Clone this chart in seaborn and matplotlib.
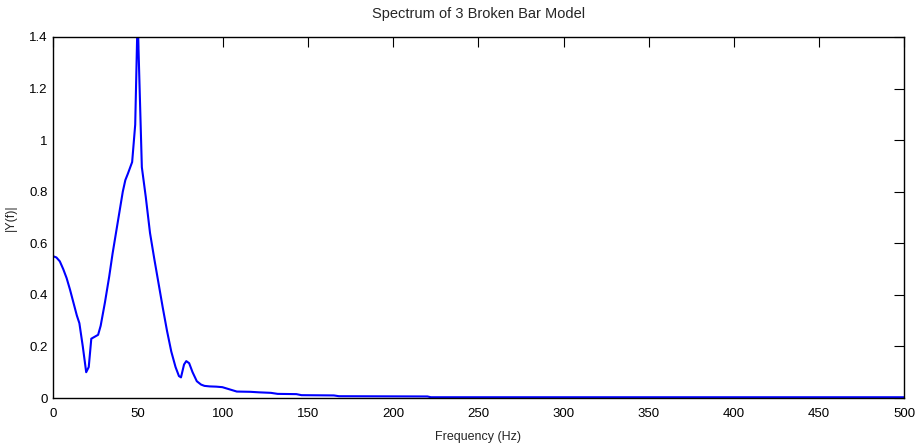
import matplotlib

matplotlib.use("Agg")
import matplotlib.pyplot as plt
import seaborn as sns
import pandas as pd

# Spectrum values (Hz, |Y(f)|)
freq_hz = [0, 2, 4, 6, 8, 10, 12, 14, 15.5, 17.5, 19.5, 21, 22.5, 26.5, 28,
           30.5, 33, 35, 37, 39, 41, 42.5, 44, 46.5, 48.3, 49.7, 52.2, 54.5,
           57, 59.5, 62, 64.5, 67, 69.5, 72, 74, 75.2, 77, 78.3, 80, 82, 84.5,
           87, 89, 92, 96, 99.5, 103, 108, 116, 121, 128, 132, 143, 146, 165,
           168, 220, 222, 500]
amplitude = [0.55, 0.545, 0.53, 0.50, 0.465, 0.42, 0.37, 0.32, 0.29, 0.20,
             0.10, 0.12, 0.23, 0.245, 0.28, 0.37, 0.47, 0.56, 0.64, 0.72,
             0.80, 0.845, 0.87, 0.915, 1.06, 1.48, 0.895, 0.78, 0.64, 0.54,
             0.445, 0.35, 0.26, 0.18, 0.12, 0.085, 0.08, 0.13, 0.143, 0.135,
             0.10, 0.065, 0.052, 0.047, 0.045, 0.044, 0.042, 0.035, 0.025,
             0.024, 0.022, 0.020, 0.016, 0.015, 0.011, 0.010, 0.007, 0.006,
             0.003, 0.003]

x_ticks = list(range(0, 501, 50))
y_ticks = [0, 0.2, 0.4, 0.6, 0.8, 1.0, 1.2, 1.4]
y_tick_labels = ["0", "0.2", "0.4", "0.6", "0.8", "1", "1.2", "1.4"]

sns.set_style("white")
plt.rcParams["font.family"] = ["Liberation Sans", "DejaVu Sans"]

df = pd.DataFrame({"freq": freq_hz, "amp": amplitude})

fig = plt.figure(figsize=(9.17, 4.44), dpi=100)
ax = fig.add_axes([0.0578, 0.1036, 0.928, 0.8131])
sns.lineplot(data=df, x="freq", y="amp", color="#0000ff", linewidth=1.5, ax=ax)

ax.set_xlim(0, 500)
ax.set_ylim(0, 1.4)
ax.set_xticks(x_ticks)
ax.set_xticklabels([str(t) for t in x_ticks])
ax.set_yticks(y_ticks)
ax.set_yticklabels(y_tick_labels)
ax.tick_params(direction="in", length=7, width=0.8, top=True, right=True,
               labelsize=9.5, colors="black")
ax.tick_params(axis="x", pad=7)
ax.tick_params(axis="y", pad=4)
for s in ax.spines.values():
    s.set_color("black")
    s.set_linewidth(1.0)

ax.set_xlabel("Frequency (Hz)", fontsize=9, labelpad=8)
ax.set_ylabel("|Y(f)|", fontsize=9, labelpad=9)
ax.set_title("Spectrum of 3 Broken Bar Model", fontsize=10.5, pad=14)

fig.savefig("out.png", dpi=100)
plt.close(fig)
